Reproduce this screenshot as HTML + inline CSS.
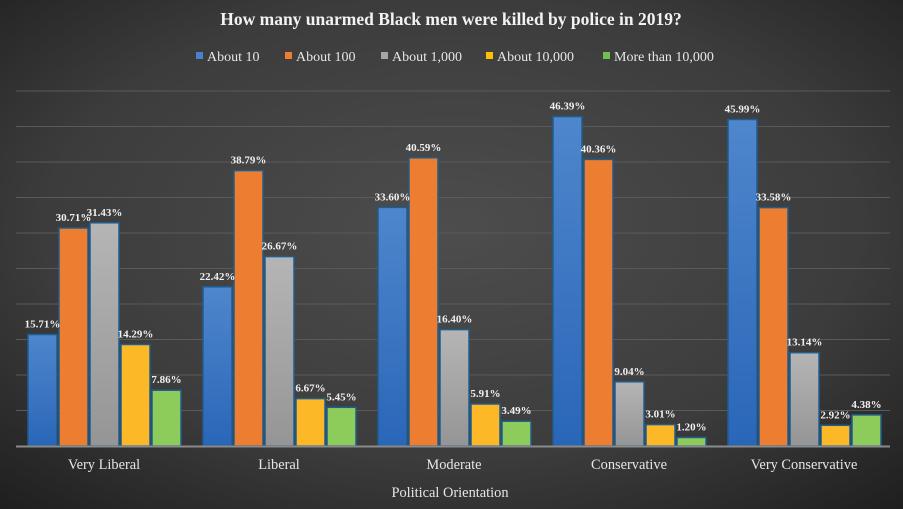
<!DOCTYPE html>
<html><head><style>body{margin:0;background:#2b2b2b}svg{display:block}</style></head><body>
<svg width="903" height="509" xmlns="http://www.w3.org/2000/svg" font-family="Liberation Serif, serif">
<defs>
<radialGradient id="bg" cx="50%" cy="45%" r="75%"><stop offset="0" stop-color="#4d4d4d"/><stop offset="0.6" stop-color="#3c3c3c"/><stop offset="1" stop-color="#1e1e1e"/></radialGradient>
<linearGradient id="gb" x1="0" y1="0" x2="0" y2="1"><stop offset="0" stop-color="#4f86cc"/><stop offset="1" stop-color="#2a66b8"/></linearGradient>
<linearGradient id="gg" x1="0" y1="0" x2="0" y2="1"><stop offset="0" stop-color="#b5b5b5"/><stop offset="1" stop-color="#959595"/></linearGradient>
</defs>
<rect width="903" height="509" fill="url(#bg)"/>
<g stroke="#5a5a5a" stroke-width="1">
<line x1="16" x2="890" y1="91" y2="91"/><line x1="16" x2="890" y1="126.5" y2="126.5"/><line x1="16" x2="890" y1="162" y2="162"/><line x1="16" x2="890" y1="197.5" y2="197.5"/><line x1="16" x2="890" y1="233" y2="233"/><line x1="16" x2="890" y1="268.5" y2="268.5"/><line x1="16" x2="890" y1="304" y2="304"/><line x1="16" x2="890" y1="339.5" y2="339.5"/><line x1="16" x2="890" y1="375" y2="375"/><line x1="16" x2="890" y1="410.5" y2="410.5"/>
</g>
<text x="451" y="25" fill="#f2f2f2" font-size="17.5" font-weight="bold" text-anchor="middle">How many unarmed Black men were killed by police in 2019?</text>
<g font-size="14" fill="#e6e6e6">
<rect x="196" y="52" width="7" height="7" fill="#4a80d0"/><text x="207" y="61">About 10</text>
<rect x="285" y="52" width="7" height="7" fill="#ed7d31"/><text x="296" y="61">About 100</text>
<rect x="381" y="52" width="7" height="7" fill="#a5a5a5"/><text x="392" y="61">About 1,000</text>
<rect x="486" y="52" width="7" height="7" fill="#ffc000"/><text x="497" y="61">About 10,000</text>
<rect x="603" y="52" width="7" height="7" fill="#70c050"/><text x="614" y="61">More than 10,000</text>
</g>
<g stroke="#1f5d8f" stroke-width="1.5">
<rect x="28" y="334.5" width="29" height="111.5" fill="url(#gb)"/>
<rect x="59" y="228" width="29" height="218" fill="#ed7d31"/>
<rect x="90" y="222.8" width="29" height="223.2" fill="url(#gg)"/>
<rect x="121" y="344.5" width="29" height="101.5" fill="#fdb827"/>
<rect x="152" y="390.2" width="29" height="55.8" fill="#8dcc5a"/>
<rect x="203" y="286.8" width="29" height="159.2" fill="url(#gb)"/>
<rect x="234" y="170.6" width="29" height="275.4" fill="#ed7d31"/>
<rect x="265" y="256.6" width="29" height="189.4" fill="url(#gg)"/>
<rect x="296" y="398.6" width="29" height="47.4" fill="#fdb827"/>
<rect x="327" y="407.3" width="29" height="38.7" fill="#8dcc5a"/>
<rect x="378" y="207.4" width="29" height="238.6" fill="url(#gb)"/>
<rect x="409" y="157.8" width="29" height="288.2" fill="#ed7d31"/>
<rect x="440" y="329.6" width="29" height="116.4" fill="url(#gg)"/>
<rect x="471" y="404" width="29" height="42" fill="#fdb827"/>
<rect x="502" y="421.2" width="29" height="24.8" fill="#8dcc5a"/>
<rect x="553" y="116.6" width="29" height="329.4" fill="url(#gb)"/>
<rect x="584" y="159.4" width="29" height="286.6" fill="#ed7d31"/>
<rect x="615" y="381.8" width="29" height="64.2" fill="url(#gg)"/>
<rect x="646" y="424.6" width="29" height="21.4" fill="#fdb827"/>
<rect x="677" y="437.5" width="29" height="8.5" fill="#8dcc5a"/>
<rect x="728" y="119.5" width="29" height="326.5" fill="url(#gb)"/>
<rect x="759" y="207.6" width="29" height="238.4" fill="#ed7d31"/>
<rect x="790" y="352.7" width="29" height="93.3" fill="url(#gg)"/>
<rect x="821" y="425.3" width="29" height="20.7" fill="#fdb827"/>
<rect x="852" y="414.9" width="29" height="31.1" fill="#8dcc5a"/>
</g>
<g font-size="11" font-weight="bold" fill="#f0f0f0" text-anchor="middle">
<text x="42.5" y="327.5">15.71%</text><text x="73.5" y="221">30.71%</text><text x="104.5" y="215.8">31.43%</text><text x="135.5" y="337.5">14.29%</text><text x="166.5" y="383.2">7.86%</text>
<text x="217.5" y="279.8">22.42%</text><text x="248.5" y="163.6">38.79%</text><text x="279.5" y="249.6">26.67%</text><text x="310.5" y="391.6">6.67%</text><text x="341.5" y="400.3">5.45%</text>
<text x="392.5" y="200.4">33.60%</text><text x="423.5" y="150.8">40.59%</text><text x="454.5" y="322.6">16.40%</text><text x="485.5" y="397">5.91%</text><text x="516.5" y="414.2">3.49%</text>
<text x="567.5" y="109.6">46.39%</text><text x="598.5" y="152.4">40.36%</text><text x="629.5" y="374.8">9.04%</text><text x="660.5" y="417.6">3.01%</text><text x="691.5" y="430.5">1.20%</text>
<text x="742.5" y="112.5">45.99%</text><text x="773.5" y="200.6">33.58%</text><text x="804.5" y="345.7">13.14%</text><text x="835.5" y="418.3">2.92%</text><text x="866.5" y="407.9">4.38%</text>
</g>
<line x1="16" x2="890" y1="446.5" y2="446.5" stroke="#8a8a8a" stroke-width="2"/>
<g font-size="14.4" fill="#e6e6e6" text-anchor="middle">
<text x="104" y="469">Very Liberal</text><text x="279" y="469">Liberal</text><text x="454" y="469">Moderate</text><text x="629" y="469">Conservative</text><text x="804" y="469">Very Conservative</text>
<text x="450" y="497">Political Orientation</text>
</g>
</svg>
</body></html>
